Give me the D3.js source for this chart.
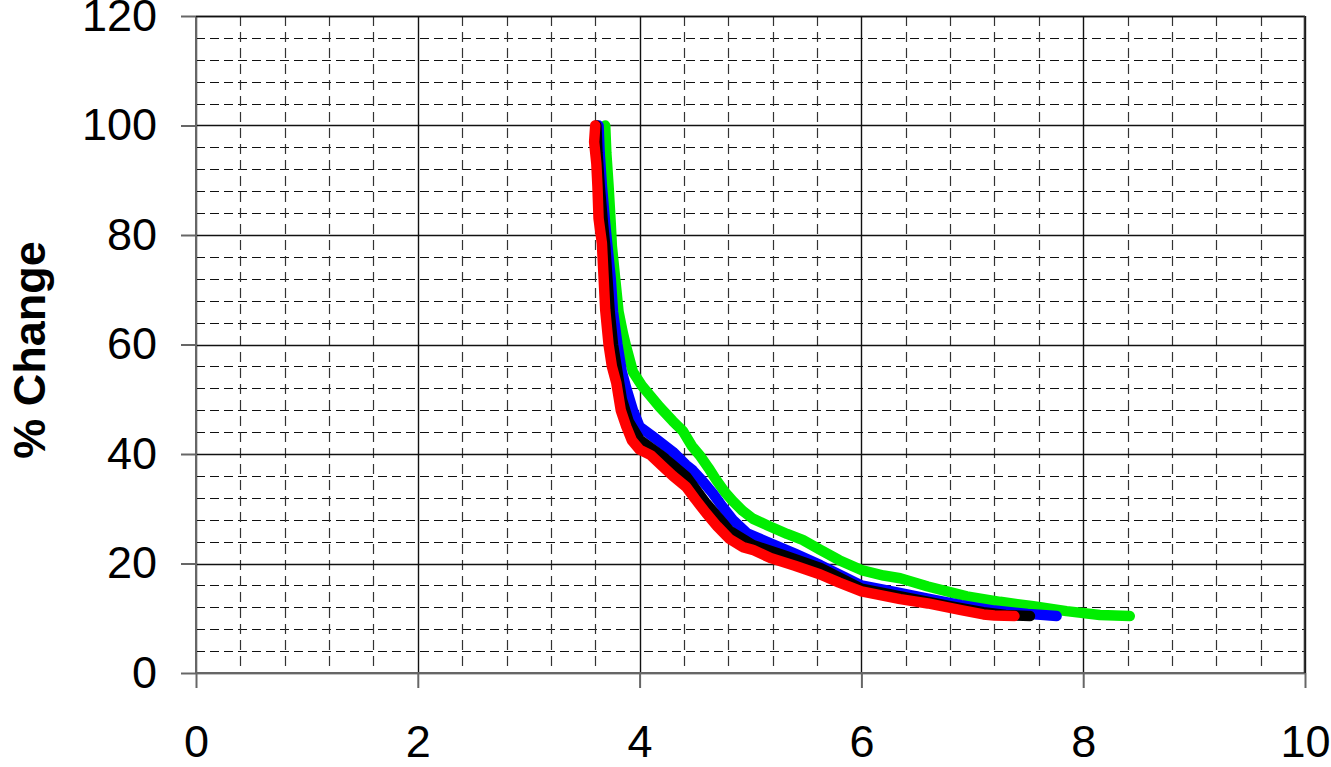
<!DOCTYPE html>
<html>
<head>
<meta charset="utf-8">
<script src="https://cdn.jsdelivr.net/npm/d3@7"></script>
<style>
  body { margin: 0; background: #fff; }
  #vis { width: 1331px; height: 767px; }
  text { font-family: "Liberation Sans", Arial, sans-serif; fill: #000; }
</style>
</head>
<body>
<div id="vis"></div>
<script>
// series values
var greenX = [3.69, 3.70, 3.72, 3.74, 3.75, 3.78, 3.81, 3.85, 3.88, 3.94, 4.02, 4.18, 4.30, 4.39, 4.47, 4.54, 4.62, 4.69, 4.77, 4.84, 4.93, 5.02, 5.15, 5.33, 5.47, 5.63, 5.80, 6.00, 6.20, 6.35, 6.60, 6.95, 7.25, 7.55, 7.85, 8.15, 8.42];
var greenY = [100, 95, 89, 82, 78, 72, 66, 62, 59.5, 55, 52.5, 48.6, 46, 44.2, 41.5, 39.8, 37.5, 35.3, 33, 31.4, 29.6, 28.2, 27, 25.4, 24.3, 22.5, 20.6, 18.8, 17.8, 17.3, 15.8, 14.0, 13.0, 12.2, 11.3, 10.6, 10.4];

var blueX = [3.63, 3.64, 3.66, 3.69, 3.71, 3.74, 3.76, 3.80, 3.84, 3.88, 3.94, 4.00, 4.12, 4.30, 4.42, 4.48, 4.57, 4.66, 4.75, 4.84, 4.97, 5.18, 5.40, 5.63, 5.85, 6.00, 6.30, 6.60, 6.90, 7.20, 7.50, 7.76];
var blueY = [100, 95, 89, 82, 78, 72, 66, 60, 55, 52, 48, 45, 43.2, 40.4, 38, 37, 35, 32.8, 30.3, 28, 25.5, 23.7, 21.8, 19.7, 17.5, 16, 14.8, 13.6, 12.4, 11.4, 10.8, 10.4];

var blackX = [3.61, 3.62, 3.64, 3.67, 3.69, 3.71, 3.73, 3.76, 3.80, 3.84, 3.90, 4.00, 4.21, 4.42, 4.60, 4.81, 5.02, 5.30, 5.63, 6.00, 6.40, 6.80, 7.10, 7.30, 7.52];
var blackY = [100, 95, 89, 82, 78, 72, 66, 60, 55, 50, 46, 42.6, 39.5, 35.9, 31, 26, 23.4, 21.5, 19.2, 15.4, 13.8, 12.2, 11.1, 10.6, 10.4];

var redX = [3.60, 3.59, 3.61, 3.62, 3.63, 3.66, 3.69, 3.72, 3.75, 3.79, 3.83, 3.88, 3.93, 4.00, 4.10, 4.21, 4.30, 4.42, 4.50, 4.60, 4.70, 4.81, 4.93, 5.02, 5.18, 5.40, 5.63, 5.80, 6.00, 6.35, 6.60, 6.90, 7.10, 7.20, 7.38];
var redY = [100, 97, 93, 88.8, 83, 78.5, 66.3, 60, 56, 53, 48, 45, 42.5, 40.8, 39.8, 37.7, 36, 34, 31.8, 29.2, 26.8, 24.5, 23, 22.5, 21, 19.6, 18, 16.5, 14.9, 13.5, 12.7, 11.5, 10.7, 10.5, 10.4];

var xTicks = [0, 2, 4, 6, 8, 10];
var yTicks = [0, 20, 40, 60, 80, 100, 120];
var yTitle = '% Change';

var width = document.getElementById('vis').clientWidth;
var height = document.getElementById('vis').clientHeight;

var margin = { top: 16, bottom: 94, left: 196, right: 26 };

var svg = d3.select('#vis')
    .append('svg')
    .attr('width', width)
    .attr('height', height)
    .append('g')
    .attr('transform', 'translate(' + margin.left + ',' + margin.top + ')');

width = width - margin.left - margin.right;
height = height - margin.top - margin.bottom;

var x_scale = d3.scaleLinear().domain([0, 10]).range([0, width]);
var y_scale = d3.scaleLinear().domain([0, 120]).range([height, 0]);

// minor dashed grid
var xMinor = d3.range(0, 10.001, 0.4).filter(function(v) { return Math.abs(v / 2 - Math.round(v / 2)) > 0.01; });
var yMinor = d3.range(0, 120.001, 4).filter(function(v) { return v % 20 !== 0; });

svg.append('g')
    .selectAll('line')
    .data(yMinor)
    .enter()
    .append('line')
    .attr('x1', 0)
    .attr('x2', width)
    .attr('y1', function(d) { return Math.round(y_scale(d)) + 0.5; })
    .attr('y2', function(d) { return Math.round(y_scale(d)) + 0.5; })
    .attr('stroke', '#111')
    .attr('stroke-width', 1.2)
    .attr('stroke-dasharray', '9,5');

svg.append('g')
    .selectAll('line')
    .data(xMinor)
    .enter()
    .append('line')
    .attr('y1', 0)
    .attr('y2', height)
    .attr('x1', function(d) { return Math.round(x_scale(d)) + 0.5; })
    .attr('x2', function(d) { return Math.round(x_scale(d)) + 0.5; })
    .attr('stroke', '#333')
    .attr('stroke-width', 1.2)
    .attr('stroke-dasharray', '10,6');

// major solid grid
svg.append('g')
    .selectAll('line')
    .data(yTicks)
    .enter()
    .append('line')
    .attr('x1', 0)
    .attr('x2', width)
    .attr('y1', function(d) { return Math.round(y_scale(d)) + 0.5; })
    .attr('y2', function(d) { return Math.round(y_scale(d)) + 0.5; })
    .attr('stroke', '#111')
    .attr('stroke-width', 1.4);

svg.append('g')
    .selectAll('line')
    .data(xTicks)
    .enter()
    .append('line')
    .attr('y1', 0)
    .attr('y2', height)
    .attr('x1', function(d) { return Math.round(x_scale(d)) + 0.5; })
    .attr('x2', function(d) { return Math.round(x_scale(d)) + 0.5; })
    .attr('stroke', '#111')
    .attr('stroke-width', 1.4);

// axes
var y_axis = d3.axisLeft(y_scale).tickValues(yTicks).tickSize(15).tickPadding(24).tickFormat(d3.format('d'));
var x_axis = d3.axisBottom(x_scale).tickValues(xTicks).tickSize(15).tickPadding(37).tickFormat(d3.format('d'));

var gy = svg.append('g').attr('class', 'y axis').call(y_axis);
var gx = svg.append('g').attr('class', 'x axis')
    .attr('transform', 'translate(0,' + height + ')')
    .call(x_axis);

[gy, gx].forEach(function(g) {
    g.selectAll('path.domain').attr('stroke', '#666').attr('stroke-width', 2);
    g.selectAll('.tick line').attr('stroke', '#666').attr('stroke-width', 2);
    g.selectAll('text')
        .style('font-size', '45px')
        .style('font-family', '"Liberation Sans", Arial, sans-serif')
        .attr('fill', '#000');
});
gy.select('path.domain').attr('d', 'M0,' + height + 'V0');
gx.select('path.domain').attr('d', 'M0,0H' + width);

// right/top border
svg.append('line').attr('x1', 0).attr('x2', width).attr('y1', 0.5).attr('y2', 0.5)
    .attr('stroke', '#111').attr('stroke-width', 1.4);
svg.append('line').attr('x1', width - 0.5).attr('x2', width - 0.5).attr('y1', 0).attr('y2', height)
    .attr('stroke', '#333').attr('stroke-width', 1.6);

// series
var line = d3.line()
    .x(function(d) { return x_scale(d[0]); })
    .y(function(d) { return y_scale(d[1]); });

var series = [
    { xs: greenX, ys: greenY, colour: '#00ee00' },
    { xs: blueX, ys: blueY, colour: '#0000ff' },
    { xs: blackX, ys: blackY, colour: '#000000' },
    { xs: redX, ys: redY, colour: '#ff0000' }
];

series.forEach(function(s) {
    var pts = s.xs.map(function(v, i) { return [v, s.ys[i]]; });
    svg.append('path')
        .datum(pts)
        .attr('d', line)
        .attr('fill', 'none')
        .attr('stroke', s.colour)
        .attr('stroke-width', 10.5)
        .attr('stroke-linecap', 'round')
        .attr('stroke-linejoin', 'round');
});

// y title
svg.append('text')
    .attr('transform', 'translate(' + (-151) + ',' + (y_scale(59)) + ') rotate(-90)')
    .attr('text-anchor', 'middle')
    .style('font-size', '45px')
    .style('font-weight', 'bold')
    .text(yTitle);
</script>
</body>
</html>
